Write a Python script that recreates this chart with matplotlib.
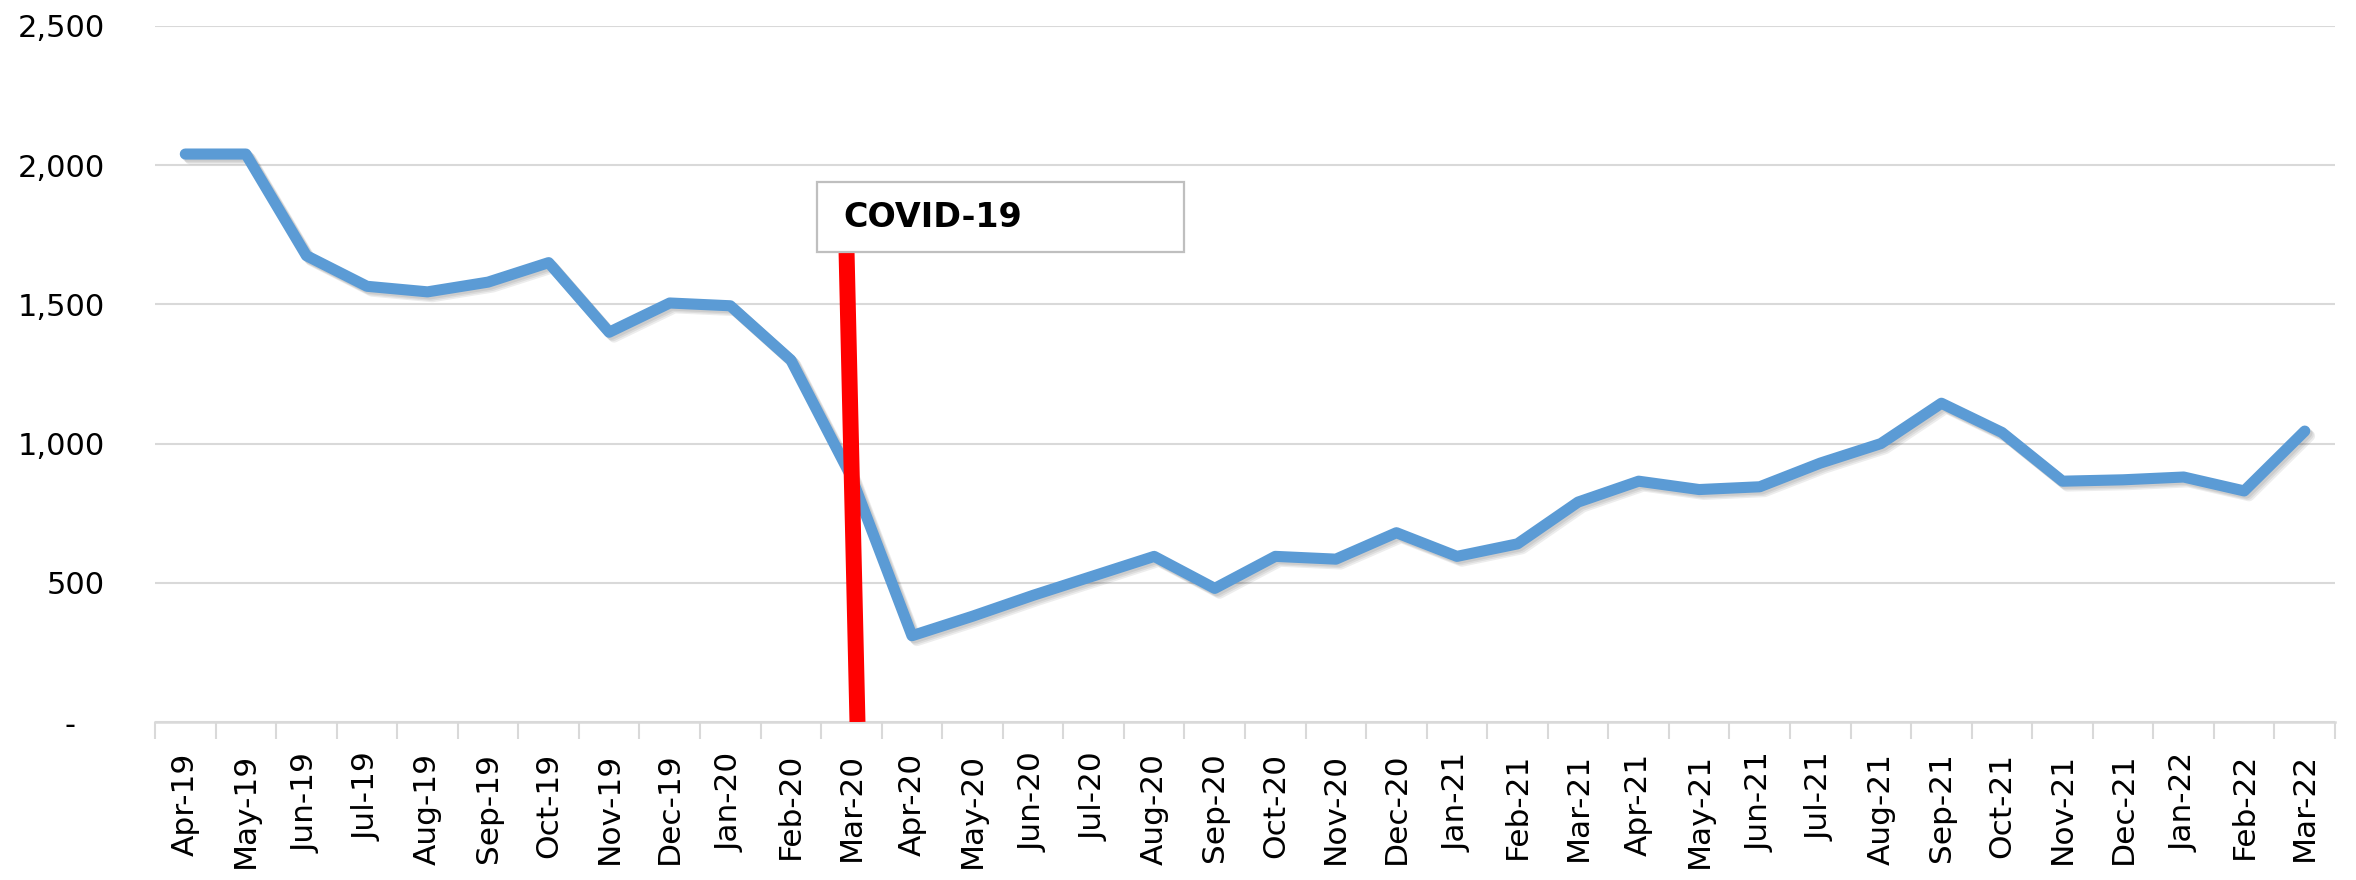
import numpy as np
import matplotlib.pyplot as plt
import matplotlib.patheffects as pe
from matplotlib.patches import Rectangle

# monthly values, Apr-19 .. Mar-22
months = ['Apr-19', 'May-19', 'Jun-19', 'Jul-19', 'Aug-19', 'Sep-19', 'Oct-19', 'Nov-19',
          'Dec-19', 'Jan-20', 'Feb-20', 'Mar-20', 'Apr-20', 'May-20', 'Jun-20', 'Jul-20',
          'Aug-20', 'Sep-20', 'Oct-20', 'Nov-20', 'Dec-20', 'Jan-21', 'Feb-21', 'Mar-21',
          'Apr-21', 'May-21', 'Jun-21', 'Jul-21', 'Aug-21', 'Sep-21', 'Oct-21', 'Nov-21',
          'Dec-21', 'Jan-22', 'Feb-22', 'Mar-22']
values = [2040, 2040, 1675, 1565, 1545, 1580, 1650, 1400,
          1505, 1495, 1300, 880, 310, 380, 455, 525,
          595, 480, 595, 585, 680, 595, 640, 790,
          865, 835, 845, 930, 1000, 1145, 1040, 865,
          870, 880, 830, 1045]

y_ticks = [0, 500, 1000, 1500, 2000, 2500]
y_labels = ['-   ', '500', '1,000', '1,500', '2,000', '2,500']

# covid marker (line + label box)
covid_label = 'COVID-19'
covid_x = [10.92, 11.10]
covid_y = [1685, 0]
box_x0, box_x1 = 10.43, 16.49
box_y0, box_y1 = 1688, 1938

fig = plt.figure(figsize=(23.56, 8.8), dpi=100)
ax = fig.add_axes([0.0658, 0.1795, 0.9253, 0.791])

x = np.arange(len(months))
# soft drop shadow, a few faint layers
shadow = [pe.SimpleLineShadow(offset=(o, -o), shadow_color='black', alpha=0.07)
          for o in (1.5, 2.5, 3.5)]
ax.plot(x, values, color='#5B9BD5', lw=8, solid_capstyle='round', solid_joinstyle='round',
        zorder=3, path_effects=shadow + [pe.Normal()])

ax.plot(covid_x, covid_y, color='#FF0000', lw=11.5, solid_capstyle='butt', zorder=4)
ax.add_patch(Rectangle((box_x0, box_y0), box_x1 - box_x0, box_y1 - box_y0,
                       facecolor='white', edgecolor='#BFBFBF', lw=1.6, zorder=5))
ax.text(box_x0 + 0.44, (box_y0 + box_y1) / 2, covid_label, fontsize=24, fontweight='bold',
        va='center', ha='left', zorder=6)

ax.set_xlim(-0.5, len(months) - 0.5)
ax.set_ylim(0, 2500)

ax.set_yticks(y_ticks)
ax.set_yticklabels(y_labels, fontsize=22)
ax.tick_params(axis='y', length=0, pad=36)
ax.grid(axis='y', color='#D9D9D9', lw=1.5)
ax.set_axisbelow(True)

# boundary ticks, labels in the middle of each month
ax.set_xticks(np.arange(len(months) + 1) - 0.5)
ax.set_xticklabels([])
ax.set_xticks(x, minor=True)
ax.set_xticklabels(months, minor=True, rotation=90, fontsize=22.5)
ax.tick_params(axis='x', which='major', length=12, width=1.5, color='#D9D9D9')
ax.tick_params(axis='x', which='minor', length=0, pad=22)

for s in ['top', 'right', 'left']:
    ax.spines[s].set_visible(False)
ax.spines['bottom'].set_color('#D9D9D9')
ax.spines['bottom'].set_linewidth(1.8)

fig.savefig('out.png', dpi=100)
